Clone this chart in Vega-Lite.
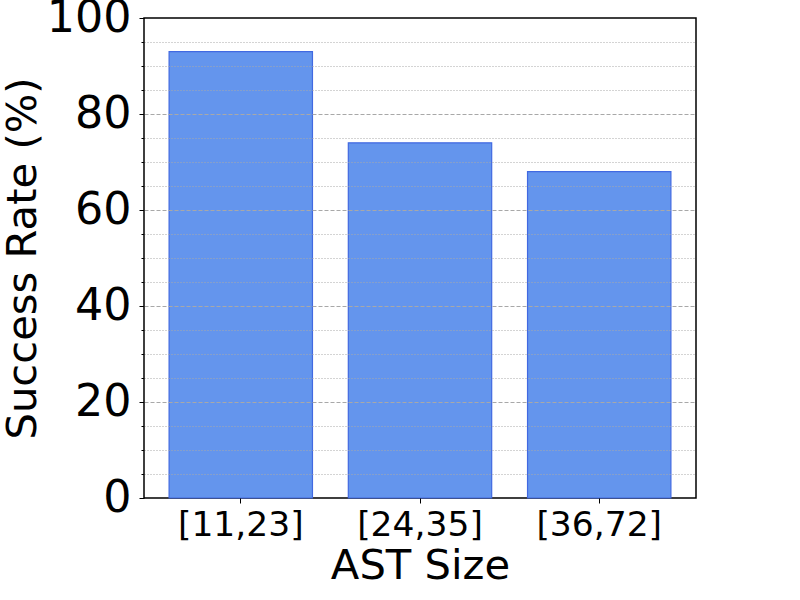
{
  "$schema": "https://vega.github.io/schema/vega-lite/v6.json",
  "width": 552,
  "height": 480,
  "autosize": {"type": "none"},
  "padding": {"left": 144, "top": 18, "right": 104, "bottom": 102},
  "background": "white",
  "config": {
    "font": "DejaVu Sans",
    "view": {"stroke": "black", "strokeWidth": 1.5},
    "axis": {"labelColor": "black", "titleColor": "black", "titleFontWeight": "normal", "domainColor": "black", "tickColor": "black"}
  },
  "data": {"values": [
    {"size": "[11,23]", "rate": 93},
    {"size": "[24,35]", "rate": 74},
    {"size": "[36,72]", "rate": 68}
  ]},
  "mark": {"type": "bar", "fill": "#6495ED", "stroke": "#4169E1", "strokeWidth": 1.2},
  "encoding": {
    "x": {
      "field": "size", "type": "nominal", "sort": null,
      "scale": {"paddingInner": 0.2, "paddingOuter": 0.14},
      "axis": {
        "title": "AST Size", "titleFontSize": 41.7, "titlePadding": 4,
        "labelFontSize": 34.5, "labelAngle": 0, "labelPadding": 5,
        "tickSize": 5, "domain": false, "grid": false, "zindex": 1
      }
    },
    "y": {
      "field": "rate", "type": "quantitative",
      "scale": {"domain": [0, 100], "nice": false},
      "axis": {
        "title": "Success Rate (%)", "titleFontSize": 41.7, "titlePadding": 2,
        "labelFontSize": 44.4, "labelPadding": 8,
        "values": [0,5,10,15,20,25,30,35,40,45,50,55,60,65,70,75,80,85,90,95,100],
        "labelExpr": "datum.value % 20 === 0 ? datum.label : ''",
        "tickSize": {"condition": {"test": "datum.value % 20 === 0", "value": 5}, "value": 3},
        "grid": true,
        "gridColor": "#a8a8a8",
        "gridWidth": 1,
        "gridOpacity": {"condition": {"test": "datum.value === 0 || datum.value === 100", "value": 0}, "value": 1},
        "gridDash": {"condition": {"test": "datum.value % 20 === 0", "value": [4, 2]}, "value": [1, 2]},
        "domain": false,
        "zindex": 1
      }
    }
  }
}
